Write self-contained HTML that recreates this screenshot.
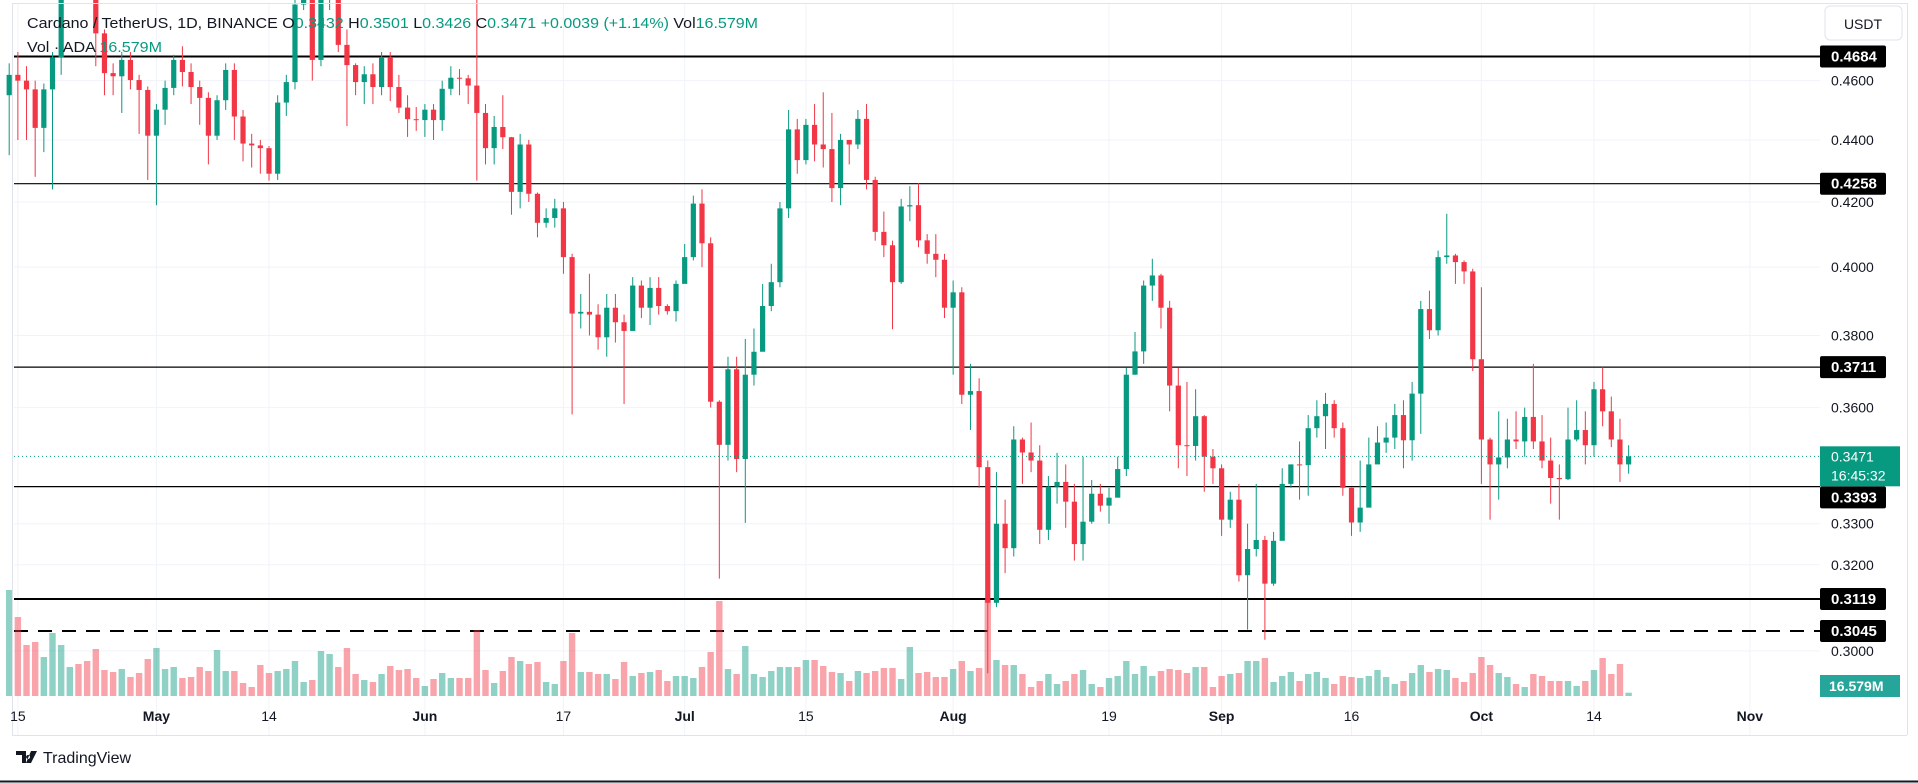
<!DOCTYPE html>
<html><head><meta charset="utf-8">
<style>
html,body{margin:0;padding:0;background:#fff;width:1918px;height:783px;overflow:hidden;}
svg{display:block;font-family:"Liberation Sans",sans-serif;}
</style></head>
<body>
<svg id="chart" width="1918" height="783" viewBox="0 0 1918 783" xmlns="http://www.w3.org/2000/svg">
  <rect x="0" y="0" width="1918" height="783" fill="#ffffff"/>
  <g id="grid"></g>
  <g id="levels"></g>
  <g id="vol"></g>
  <g id="candles"></g>
  <line x1="14" y1="456" x2="1820" y2="456" id="lastline" stroke="#089981" stroke-width="1" stroke-dasharray="1,3"/>
  <rect x="1820" y="0" width="98" height="740" fill="#ffffff"/>
  <line x1="12.5" y1="3" x2="12.5" y2="735" stroke="#e0e3eb"/>
  <line x1="12" y1="3.5" x2="1907" y2="3.5" stroke="#e0e3eb"/>
  <line x1="1907.5" y1="3" x2="1907.5" y2="735" stroke="#e0e3eb"/>
  <line x1="12" y1="735.5" x2="1907" y2="735.5" stroke="#e0e3eb"/>
  <g id="ticks"></g>
  <g id="dates"></g>
  <g id="levellabels"></g>
  <rect x="1825" y="6" width="77" height="34" rx="5" fill="#fff" stroke="#e0e3eb"/>
  <text x="1863" y="29" font-size="14" fill="#131722" text-anchor="middle">USDT</text>
  <text x="27" y="28" font-size="15" fill="#131722" textLength="731" lengthAdjust="spacingAndGlyphs">Cardano / TetherUS, 1D, BINANCE  O<tspan fill="#089981">0.3432</tspan>  H<tspan fill="#089981">0.3501</tspan>  L<tspan fill="#089981">0.3426</tspan>  C<tspan fill="#089981">0.3471</tspan>  <tspan fill="#089981">+0.0039 (+1.14%)</tspan>  Vol<tspan fill="#089981">16.579M</tspan></text>
  <text x="27" y="52" font-size="15" fill="#131722" textLength="135" lengthAdjust="spacingAndGlyphs">Vol · ADA  <tspan fill="#089981">16.579M</tspan></text>
  <g>
    <path d="M16 751 h10 v12 h-4 v-8 h-6z M28 755 a2 2 0 1 0 0.1 0z M31 751 h6 l-6 12 h-5z" fill="#131722"/>
    <text x="43" y="763" font-size="16" fill="#131722">TradingView</text>
  </g>
  <line x1="0" y1="781.5" x2="1918" y2="781.5" stroke="#131722" stroke-width="2"/>
</svg>
<script>
const closes=[.462,.460,.457,.444,.457,.468,.495,.500,.497,.492,
.4766,.4626,.4615,.4672,.4602,.4568,.4414,.4501,.4575,.4672,
.4630,.4578,.4541,.4414,.4533,.4637,.4478,.4388,.4382,.4373,
.4290,.4525,.4595,.4870,.4950,.4672,.4890,.4950,.4725,.4654,
.4595,.4622,.4578,.4682,.4578,.4508,.4469,.4466,.4501,.4466,
.4572,.4610,.4608,.4583,.4490,.4373,.4443,.4409,.4232,.4385,
.4226,.4135,.4150,.4180,.4030,.3863,.3868,.3860,.3795,.3880,
.3838,.3813,.3945,.3880,.3938,.3885,.3870,.3950,.4030,.4195,
.4072,.3616,.3501,.3705,.3464,.3690,.3754,.3885,.3955,.4180,
.4435,.4334,.4450,.4385,.4370,.4244,.4400,.4385,.4470,.4270,
.4107,.4066,.3955,.4186,.4190,.4081,.4040,.4022,.3880,.3925,
.3635,.3645,.3443,.3110,.3300,.3240,.3515,.3481,.3460,.3285,
.3393,.3405,.3355,.3250,.3305,.3375,.3345,.3365,.3438,.3690,
.3755,.3945,.3975,.3880,.3660,.3500,.3498,.3577,.3470,.3440,
.3310,.3360,.3175,.3238,.3260,.3155,.3258,.3400,.3450,.3448,
.3545,.3577,.3610,.3545,.3390,.3303,.3340,.3450,.3507,.3520,
.3580,.3513,.3638,.3876,.3815,.4030,.4035,.4015,.3987,.3733,
.3515,.3450,.3468,.3515,.3510,.3575,.3510,.3460,.3415,.3412,
.3515,.3540,.3500,.3650,.3590,.3515,.3450,.3471];
const firstOpen=.455;
const highs=[.466,.470,.465,.460,.459,.470,.50,.51,.51,.51,
.50,.478,.466,.470,.470,.462,.458,.452,.460,.469,
.472,.466,.460,.456,.455,.466,.466,.450,.442,.440,
.438,.455,.462,.490,.50,.495,.495,.50,.49,.478,
.466,.465,.466,.470,.470,.462,.455,.451,.452,.452,
.460,.465,.464,.462,.49,.452,.448,.455,.441,.442,
.440,.423,.418,.421,.420,.404,.392,.398,.389,.392,
.392,.386,.397,.396,.397,.397,.389,.396,.407,.422,
.424,.409,.362,.374,.374,.379,.382,.395,.401,.420,
.450,.447,.447,.452,.456,.449,.442,.440,.450,.452,
.428,.417,.408,.421,.425,.426,.410,.410,.404,.396,
.394,.372,.368,.346,.343,.336,.355,.352,.356,.350,
.342,.348,.345,.340,.347,.341,.340,.339,.347,.371,
.381,.396,.4025,.398,.390,.371,.367,.365,.358,.349,
.345,.338,.340,.330,.340,.327,.328,.344,.345,.351,
.358,.362,.364,.362,.356,.339,.346,.352,.355,.356,
.361,.362,.367,.390,.393,.405,.4163,.404,.402,.3995,
.394,.352,.359,.357,.359,.360,.372,.358,.352,.345,
.360,.362,.359,.367,.3711,.363,.357,.350];
const lows=[.435,.440,.440,.428,.436,.424,.462,.49,.49,.49,
.465,.455,.455,.449,.457,.442,.427,.419,.445,.455,
.458,.452,.445,.432,.440,.450,.440,.433,.431,.429,
.4268,.427,.448,.457,.485,.460,.465,.485,.470,.4446,
.455,.452,.452,.455,.453,.449,.441,.443,.441,.440,
.443,.455,.455,.452,.4268,.432,.432,.437,.416,.418,
.420,.409,.412,.412,.398,.3582,.382,.380,.376,.374,
.378,.3610,.386,.385,.383,.386,.386,.384,.401,.402,
.400,.360,.3167,.346,.343,.3302,.366,.376,.387,.394,
.415,.429,.432,.433,.431,.420,.419,.432,.437,.424,
.408,.403,.3818,.395,.414,.406,.401,.397,.385,.369,
.361,.354,.339,.295,.310,.318,.322,.340,.343,.325,
.326,.335,.329,.321,.321,.330,.333,.330,.339,.342,
.369,.372,.390,.382,.359,.344,.342,.346,.338,.340,
.327,.329,.316,.3048,.322,.3025,.315,.334,.339,.336,
.337,.352,.349,.352,.337,.327,.328,.341,.347,.348,
.349,.344,.346,.353,.379,.380,.401,.395,.395,.370,
.340,.331,.336,.344,.349,.347,.349,.344,.335,.331,
.341,.351,.345,.347,.355,.3495,.3405,.3426];
const volumes=[530,395,255,270,195,315,255,145,160,175,
235,130,120,135,95,115,185,240,135,145,
90,95,145,125,230,125,125,65,45,155,
115,125,135,175,70,80,225,210,145,240,
110,80,70,110,150,130,135,90,50,85,
115,90,90,90,330,130,65,125,195,175,
160,170,70,60,175,315,120,120,110,110,
85,170,100,115,120,130,75,100,100,90,
145,220,475,135,110,250,110,95,125,145,
145,145,180,180,150,120,115,75,125,115,
125,140,140,85,245,115,120,95,95,135,
175,125,140,480,180,155,155,110,45,75,
110,60,75,110,130,60,45,90,100,175,
110,150,100,125,135,130,115,145,145,45,
100,110,115,175,175,190,70,100,120,75,
110,120,90,60,100,95,90,100,130,95,
60,75,115,155,120,135,130,90,70,115,
195,155,115,95,60,45,110,100,75,75,
75,50,75,130,190,110,160,16.579];
const levelPrices=[0.4684,0.4258,0.3711,0.3393,0.3119,0.3045];
const levelLabels=["0.4684","0.4258","0.3711","0.3393","0.3119","0.3045"];
const tickPrices=[0.46,0.44,0.42,0.40,0.38,0.36,0.33,0.32,0.30];
const tickLabels=["0.4600","0.4400","0.4200","0.4000","0.3800","0.3600","0.3300","0.3200","0.3000"];
const dateIdx=[1,17,30,48,64,78,92,109,127,140,155,170,183,201];
const dateLabels=["15","May","14","Jun","17","Jul","15","Aug","19","Sep","16","Oct","14","Nov"];
const lastPrice=0.3471;

const NS="http://www.w3.org/2000/svg";
function yP(p){return 56.5+1334*Math.log(0.4684/p);}
function xI(i){return 9.2+8.66*i;}
function yV(v){return 696-v*0.2;}
function mk(tag,attrs,parent){const e=document.createElementNS(NS,tag);for(const k in attrs)e.setAttribute(k,attrs[k]);parent.appendChild(e);return e;}
const G=id=>document.getElementById(id);

tickPrices.forEach((p)=>{const l=mk('line',{x1:14,x2:1820,y1:yP(p),y2:yP(p),stroke:'#f0f3fa'},G('grid'));

});
dateIdx.forEach((d)=>{const l=mk('line',{x1:xI(d),x2:xI(d),y1:4,y2:735,stroke:'#f0f3fa'},G('grid'));

});

for(let i=0;i<closes.length;i++){
  const o=i===0?firstOpen:closes[i-1];const up=closes[i]>=o;
  const y=yV(volumes[i]);
  const r=mk('rect',{x:xI(i)-3.2,y:y,width:6.4,height:696-y,fill:up?'rgba(8,153,129,0.45)':'rgba(242,54,69,0.45)'},G('vol'));
  
  
}
levelPrices.forEach((p,k)=>{
  const y=yP(p);const thick=(k===0||k===4||k===5);
  const l=mk('line',{x1:14,x2:1820,y1:y,y2:y,stroke:'#000','stroke-width':thick?2:1.2},G('levels'));
  if(k===5)l.setAttribute('stroke-dasharray','14,10');
  
  
});
for(let i=0;i<closes.length;i++){
  const o=i===0?firstOpen:closes[i-1];const c=closes[i];const up=c>=o;
  const col=up?'#089981':'#f23645';const x=xI(i);
  const w=mk('line',{x1:x,x2:x,y1:yP(highs[i]),y2:yP(lows[i]),stroke:col,'stroke-width':1},G('candles'));
  
  
  const yt=yP(Math.max(o,c)),yb=yP(Math.min(o,c));
  const b=mk('rect',{x:x-2.6,y:yt,width:5.2,height:Math.max(1,yb-yt),fill:col},G('candles'));
  
  
}
G('lastline').setAttribute('y1',yP(lastPrice));G('lastline').setAttribute('y2',yP(lastPrice));
tickPrices.forEach((p,k)=>{const t=mk('text',{x:1831,y:yP(p)+5,'font-size':14,fill:'#131722'},G('ticks'));t.textContent=tickLabels[k];

});
const lastY=yP(lastPrice);
levelPrices.forEach((p,k)=>{let y=yP(p);
  if(y-11<lastY+30 && y+11>lastY-10) y=lastY+30+11;
  const r=mk('rect',{x:1820,y:y-11,width:66,height:22,fill:'#000',rx:2},G('levellabels'));
  
  
  const t=mk('text',{x:1831,y:y+5,'font-size':15,'font-weight':'bold',fill:'#fff'},G('levellabels'));t.textContent=levelLabels[k];
  
  
});
{const y=lastY;
 const r=mk('rect',{x:1820,y:y-10,width:80,height:40,fill:'#089981'},G('levellabels'));
 
 
 const t1=mk('text',{x:1831,y:y+5,'font-size':14,fill:'#fff'},G('levellabels'));t1.textContent='0.3471';
 
 
 const t2=mk('text',{x:1831,y:y+24,'font-size':14,fill:'#fff'},G('levellabels'));t2.textContent='16:45:32';
 
 
 const r2=mk('rect',{x:1820,y:675,width:80,height:22,fill:'#26a69a'},G('levellabels'));
 
 
 const t3=mk('text',{x:1829,y:691,'font-size':14,'font-weight':'bold',fill:'#fff'},G('levellabels'));t3.textContent='16.579M';
 
 
}
dateIdx.forEach((d,k)=>{const t=mk('text',{x:xI(d),y:721,'font-size':14,fill:'#131722','text-anchor':'middle','font-weight':isNaN(+dateLabels[k])?'bold':'normal'},G('dates'));t.textContent=dateLabels[k];

});
</script>
</body></html>
